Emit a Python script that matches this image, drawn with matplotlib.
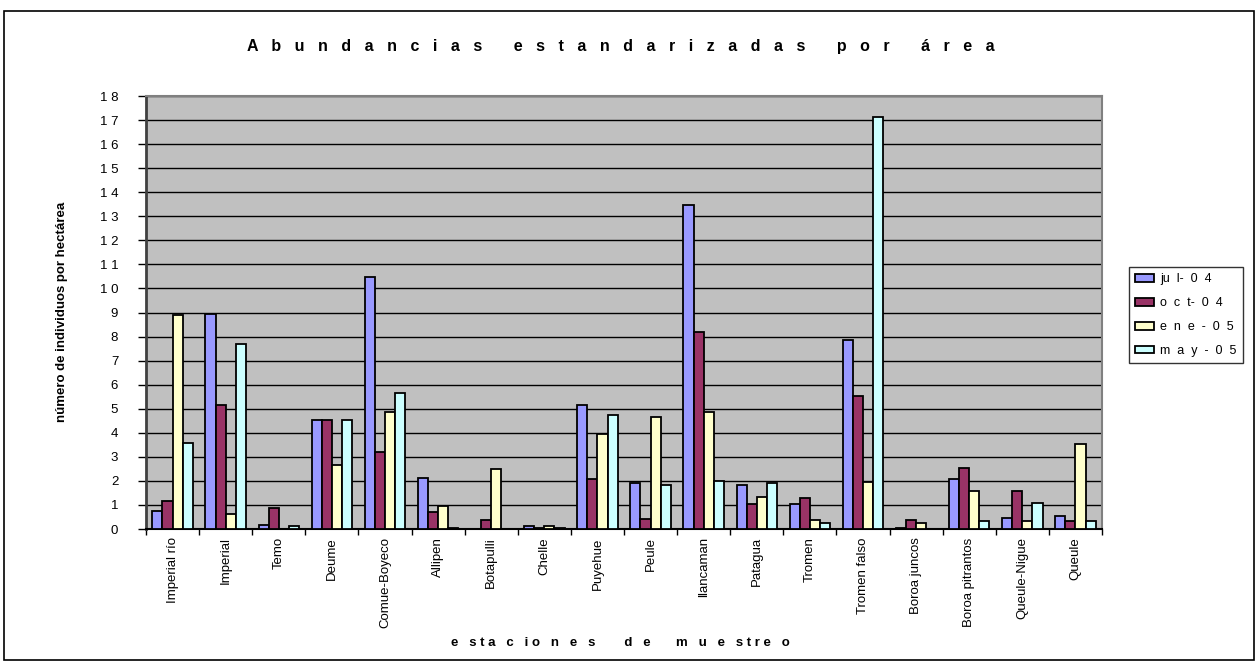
import numpy as np
import matplotlib
matplotlib.use("Agg")
import matplotlib.pyplot as plt
from matplotlib.patches import Rectangle, Patch

plt.rcParams['font.family'] = ['Liberation Sans', 'DejaVu Sans']

# Sampling stations
stations = ["Imperial río", "Imperial", "Temo", "Deume", "Comue-Boyeco", "Allipen",
            "Botapulli", "Chelle", "Puyehue", "Peule", "llancaman", "Patagua",
            "Tromen", "Tromen falso", "Boroa juncos", "Boroa pitrantos",
            "Queule-Nigue", "Queule"]

# Standardised abundance (individuals per hectare) for each campaign
jul_04 = [0.75, 8.92, 0.18, 4.53, 10.47, 2.11, 0.0, 0.14, 5.14, 1.93,
          13.47, 1.83, 1.04, 7.86, 0.05, 2.08, 0.44, 0.54]
oct_04 = [1.18, 5.14, 0.88, 4.53, 3.22, 0.72, 0.38, 0.05, 2.07, 0.43,
          8.17, 1.04, 1.28, 5.53, 0.39, 2.53, 1.58, 0.35]
ene_05 = [8.89, 0.63, 0.0, 2.68, 4.87, 0.97, 2.49, 0.14, 3.93, 4.64,
          4.86, 1.33, 0.39, 1.94, 0.24, 1.60, 0.35, 3.54]
may_05 = [3.58, 7.67, 0.14, 4.53, 5.64, 0.06, 0.0, 0.05, 4.74, 1.82,
          2.00, 1.90, 0.24, 17.12, 0.0, 0.35, 1.08, 0.35]

series_labels = ["ju  l-  0  4", "o  c  t-  0  4", "e  n  e  -  0  5", "m  a  y  -  0  5"]
series_colors = ["#9999FF", "#993366", "#FFFFCC", "#CCFFFF"]
y_ticks = list(range(0, 19))
y_tick_labels = [" ".join(str(v)) for v in y_ticks]

title_words = ["Abundancias", "estandarizadas", "por", "área"]
title_text = (" " * 7).join((" " * 3).join(w) for w in title_words)
xlabel_text = "e   s t a   c   i o   n   e   s        d   e       m   u   e   s t r e   o"
ylabel_text = "número de individuos por hectárea"

W, H = 1258, 664
fig = plt.figure(figsize=(W / 100, H / 100), dpi=100)

# Outer chart frame
fig.patches.append(Rectangle((4 / W, 1 - 660 / H), 1250 / W, 649 / H,
                             transform=fig.transFigure, fill=False,
                             edgecolor="black", linewidth=1.2, zorder=0))

ax = fig.add_axes([146 / W, 1 - 529 / H, 956 / W, 433 / H])
ax.set_facecolor("#C0C0C0")

n = len(stations)
x = np.arange(n)
bw = 0.19
all_series = [jul_04, oct_04, ene_05, may_05]
for i, (vals, col, lab) in enumerate(zip(all_series, series_colors, series_labels)):
    offs = (i - 1.5) * bw
    ax.bar(x + offs, vals, width=bw, color=col, edgecolor="black",
           linewidth=1.3, label=lab, zorder=3)

ax.set_xlim(-0.5, n - 0.5)
ax.set_ylim(0, 18)
ax.set_yticks(y_ticks)
ax.set_yticklabels(y_tick_labels, fontsize=9.5)
ax.yaxis.grid(True, color="black", linewidth=1.0, zorder=1)
ax.set_axisbelow(True)

# Category separators as tick marks, labels centred under each group
ax.set_xticks(np.arange(-0.5, n, 1.0))
ax.set_xticklabels([])
ax.set_xticks(x, minor=True)
ax.set_xticklabels(stations, minor=True, rotation=90, fontsize=9.5,
                   va="top", ha="center")
ax.tick_params(axis="x", which="minor", length=0, pad=6)
ax.tick_params(axis="x", which="major", length=4, width=1, direction="out")
ax.tick_params(axis="y", length=6, width=1, direction="out", pad=14)

for side in ["top", "right"]:
    ax.spines[side].set_color("#808080")
    ax.spines[side].set_linewidth(1.5)
ax.spines["left"].set_color("#404040")
ax.spines["left"].set_linewidth(2)
ax.spines["bottom"].set_color("black")
ax.spines["bottom"].set_linewidth(1.5)

fig.text(621 / W, 1 - 46 / H, title_text,
         ha="center", va="center", fontsize=11.5, fontweight="bold")
fig.text(620 / W, 1 - 643 / H, xlabel_text,
         ha="center", va="center", fontsize=9.5, fontweight="bold")
fig.text(62 / W, 1 - 312 / H, ylabel_text,
         ha="center", va="center", rotation=90, fontsize=9.5, fontweight="bold")

handles = [Patch(facecolor=c, edgecolor="black", linewidth=1.3) for c in series_colors]
leg = fig.legend(handles, series_labels, loc="upper left",
                 bbox_to_anchor=(1129 / W, 1 - 267 / H),
                 bbox_transform=fig.transFigure, fontsize=9, frameon=True,
                 fancybox=False, edgecolor="black", borderpad=0.5,
                 labelspacing=0.95, handlelength=1.5, handleheight=0.6,
                 handletextpad=0.5, borderaxespad=0)
leg.get_frame().set_linewidth(1.0)

fig.savefig("out.png", dpi=100)
